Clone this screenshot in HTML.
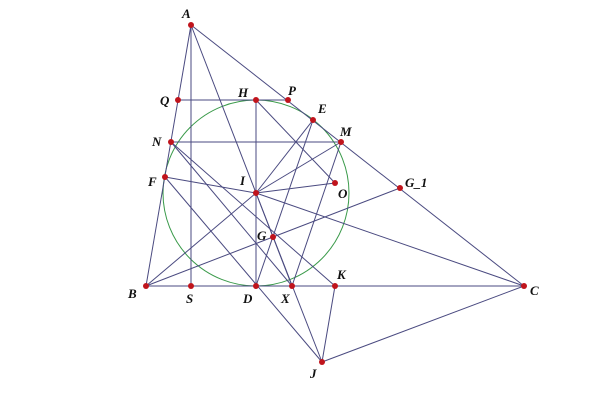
<!DOCTYPE html>
<html><head><style>body{margin:0;background:#fff}svg{display:block}text{font-family:"Liberation Serif",serif;font-style:italic;font-weight:bold;font-size:13px;fill:#111}</style></head><body>
<svg width="600" height="400" viewBox="0 0 600 400">
<circle cx="256" cy="193" r="93" fill="none" stroke="#3a9a4a" stroke-width="1"/>
<g stroke="#4a4a80" stroke-width="1" fill="none">
<line x1="191" y1="25" x2="146" y2="286"/>
<line x1="191" y1="25" x2="524" y2="286"/>
<line x1="146" y1="286" x2="524" y2="286"/>
<line x1="191" y1="25" x2="191" y2="286"/>
<line x1="191" y1="25" x2="292" y2="286"/>
<line x1="178" y1="100" x2="288" y2="100"/>
<line x1="256" y1="100" x2="256" y2="286"/>
<line x1="256" y1="100" x2="335" y2="183"/>
<line x1="171" y1="142" x2="341" y2="142"/>
<line x1="171" y1="142" x2="292" y2="286"/>
<line x1="171" y1="142" x2="335" y2="286"/>
<line x1="165" y1="177" x2="322" y2="362"/>
<line x1="165" y1="177" x2="256" y2="193"/>
<line x1="256" y1="193" x2="335" y2="183"/>
<line x1="256" y1="193" x2="313" y2="120"/>
<line x1="256" y1="193" x2="341" y2="142"/>
<line x1="256" y1="193" x2="524" y2="286"/>
<line x1="256" y1="193" x2="146" y2="286"/>
<line x1="256" y1="193" x2="322" y2="362"/>
<line x1="313" y1="120" x2="256" y2="286"/>
<line x1="341" y1="142" x2="292" y2="286"/>
<line x1="146" y1="286" x2="400" y2="188"/>
<line x1="335" y1="286" x2="322" y2="362"/>
<line x1="524" y1="286" x2="322" y2="362"/>
</g>
<g fill="#c0141c">
<circle cx="191" cy="25" r="3"/><circle cx="178" cy="100" r="3"/><circle cx="256" cy="100" r="3"/><circle cx="288" cy="100" r="3"/>
<circle cx="313" cy="120" r="3"/><circle cx="341" cy="142" r="3"/><circle cx="171" cy="142" r="3"/><circle cx="165" cy="177" r="3"/>
<circle cx="256" cy="193" r="3"/><circle cx="335" cy="183" r="3"/><circle cx="400" cy="188" r="3"/><circle cx="273" cy="237" r="3"/>
<circle cx="146" cy="286" r="3"/><circle cx="191" cy="286" r="3"/><circle cx="256" cy="286" r="3"/><circle cx="292" cy="286" r="3"/>
<circle cx="335" cy="286" r="3"/><circle cx="524" cy="286" r="3"/><circle cx="322" cy="362" r="3"/>
</g>
<text x="182" y="18">A</text><text x="160" y="105">Q</text><text x="238" y="97">H</text><text x="288" y="95">P</text>
<text x="318" y="113">E</text><text x="340" y="136">M</text><text x="152" y="146">N</text><text x="148" y="186">F</text>
<text x="240" y="185">I</text><text x="338" y="198">O</text><text x="405" y="187">G_1</text><text x="257" y="240">G</text>
<text x="128" y="298">B</text><text x="186" y="303">S</text><text x="243" y="303">D</text><text x="281" y="303">X</text>
<text x="337" y="279">K</text><text x="530" y="295">C</text><text x="310" y="378">J</text>
</svg>
</body></html>
